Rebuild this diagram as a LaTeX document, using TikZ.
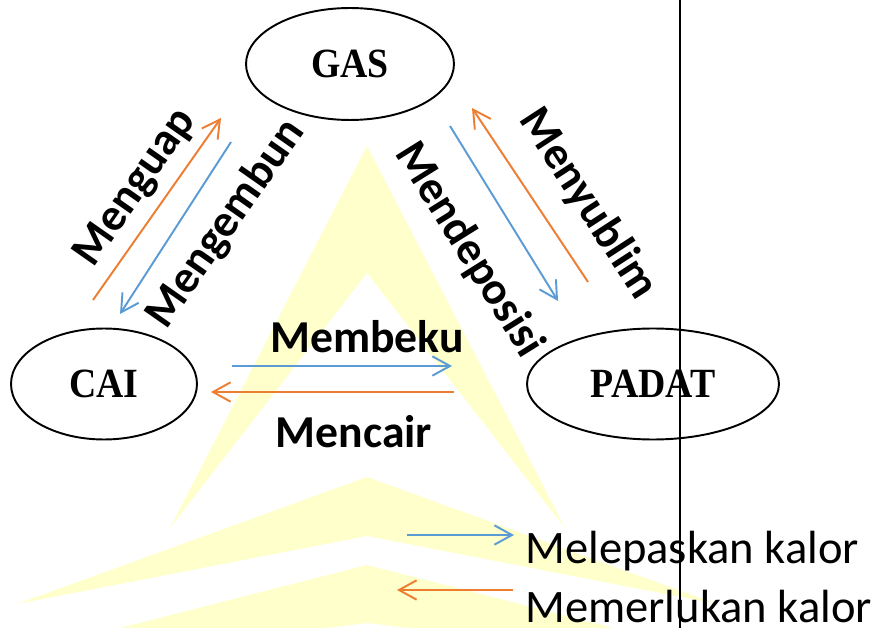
\documentclass[tikz,border=0pt]{standalone}
\usepackage{fontspec}
\setmainfont{Carlito}
\newfontfamily\statefont{Liberation Serif}
\usetikzlibrary{arrows.meta,shapes.geometric}
\definecolor{heatout}{RGB}{91,155,213}
\definecolor{heatin}{RGB}{237,125,49}
\definecolor{wmark}{RGB}{255,255,204}
\newcommand{\tallname}[1]{\scalebox{1}[1.1]{#1}}

\begin{document}
\begin{tikzpicture}[x=0.02cm,y=-0.02cm,
  phase/.style={draw,ellipse,line width=1.1pt,inner sep=0pt,
    font=\statefont\bfseries\fontsize{21.5}{24}\selectfont},
  proc/.style={inner sep=0pt,font=\bfseries\fontsize{26}{30}\selectfont},
  legend/.style={inner sep=0pt,anchor=base west,font=\fontsize{26.5}{30}\selectfont},
  release/.style={draw=heatout,line width=1.1pt,-{Straight Barb[length=10pt,width=11pt]}},
  absorb/.style={draw=heatin,line width=1.1pt,-{Straight Barb[length=10pt,width=11pt]}}]
\useasboundingbox (0,0) rectangle (886,628);
% watermark behind
\begin{scope}
\clip (0,0) rectangle (886,628);
\fill[wmark] (170,528) -- (367,146) -- (565,528) -- (367,273) -- cycle;
\fill[wmark] (17,604) -- (367,477) -- (717,604) -- (367,536) -- cycle;
\fill[wmark] (-80,679) -- (367,565) -- (814,679) -- (367,623) -- cycle;
\end{scope}

\node[phase,minimum width=4.16cm,minimum height=2.24cm] (gas) at (350,64) {\tallname{GAS}};
\node[phase,minimum width=3.72cm,minimum height=2.22cm] (cai) at (104,384) {\tallname{CAI}};
\node[phase,minimum width=5.04cm,minimum height=2.22cm] (padat) at (653,384) {\tallname{PADAT}};

\coordinate (uapA) at (93,300);     \coordinate (uapB) at (221,118);
\coordinate (embunA) at (231,142);  \coordinate (embunB) at (120,314);
\coordinate (depoA) at (450,126);   \coordinate (depoB) at (558,301);
\coordinate (sublimA) at (588,282); \coordinate (sublimB) at (472,108);
\coordinate (bekuA) at (232,366);   \coordinate (bekuB) at (452,366);
\coordinate (cairA) at (454,392);   \coordinate (cairB) at (211,392);
\draw[absorb] (uapA) -- (uapB);
\draw[release] (embunA) -- (embunB);
\draw[release] (depoA) -- (depoB);
\draw[absorb] (sublimA) -- (sublimB);
\draw[release] (bekuA) -- (bekuB);
\draw[absorb] (cairA) -- (cairB);

\node[proc,rotate=55] (uap) at (136,188) {Menguap};
\node[proc,rotate=55] (embun) at (226,224) {Mengembun};
\node[proc,rotate=-58] (depo) at (469,250) {Mendeposisi};
\node[proc,rotate=-57] (sublim) at (588,204) {Menyublim};
\node[proc,anchor=base] (beku) at (367,353) {Membeku};
\node[proc,anchor=base] (cair) at (354,447) {Mencair};

% legend
\coordinate (keyA) at (407,535); \coordinate (keyB) at (514,535);
\coordinate (keyC) at (513,590); \coordinate (keyD) at (397,590);
\draw[release] (keyA) -- (keyB);
\draw[absorb] (keyC) -- (keyD);
\node[legend] (lepas) at (525,563) {Melepaskan kalor};
\node[legend] (perlu) at (525,622) {Memerlukan kalor};

\draw[line width=0.8pt] (680,0) -- (680,628);
\end{tikzpicture}
\end{document}
